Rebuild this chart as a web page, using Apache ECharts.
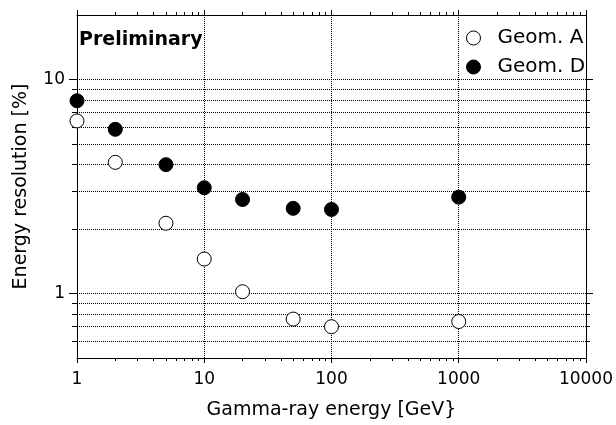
<!DOCTYPE html>
<html>
<head>
<meta charset="utf-8">
<script src="https://cdn.jsdelivr.net/npm/echarts@6/dist/echarts.min.js"></script>
<style>
  html, body { margin: 0; padding: 0; background: #fff; }
  #chart { width: 616px; height: 425px; }
</style>
</head>
<body>
<div id="chart"></div>
<script>
// gamma-ray energy [GeV]
var energies = [1, 2, 5, 10, 20, 50, 100, 1000];
// energy resolution [%]
var geomA = [6.4, 4.1, 2.13, 1.45, 1.02, 0.76, 0.70, 0.74];
var geomD = [7.95, 5.85, 4.0, 3.12, 2.75, 2.5, 2.47, 2.82];

var xMajor = [1, 10, 100, 1000, 10000];
var xMinor = [2, 3, 4, 5, 6, 7, 8, 9,
              20, 30, 40, 50, 60, 70, 80, 90,
              200, 300, 400, 500, 600, 700, 800, 900,
              2000, 3000, 4000, 5000, 6000, 7000, 8000, 9000];
var yMajor = [1, 10];
var yMinor = [0.6, 0.7, 0.8, 0.9, 2, 3, 4, 5, 6, 7, 8, 9];

var xRange = [1, 10000];
var yRange = [0.5, 20];

var FONT = '"DejaVu Sans", sans-serif';

function lg(arr) {
    return arr.map(function (v) { return Math.log10(v); });
}
function pairs(xs, ys) {
    return xs.map(function (x, i) { return [x, ys[i]]; });
}
function powLabel(v) {
    return String(Math.round(Math.pow(10, v)));
}

// decoration axis in log10 space (ticks, labels, grid lines)
function decoAxis(dim, position, ticks, len, opts) {
    var range = dim === 'x' ? xRange : yRange;
    var ax = {
        type: 'value',
        position: position,
        min: Math.log10(range[0]),
        max: Math.log10(range[1]),
        axisLine: { show: !!opts.line, onZero: false, lineStyle: { color: '#000', width: 1 } },
        axisTick: {
            show: true,
            inside: false,
            length: len,
            customValues: lg(ticks),
            lineStyle: { color: '#000', width: 1 }
        },
        axisLabel: { show: false },
        splitLine: {
            show: !!opts.split,
            lineStyle: { color: '#000', width: 1, type: 'dotted' }
        }
    };
    if (opts.labels) {
        ax.axisLabel = {
            show: true,
            customValues: lg(ticks),
            formatter: powLabel,
            margin: opts.margin,
            color: '#000',
            fontSize: 17,
            fontFamily: FONT
        };
    }
    if (opts.name) {
        ax.name = opts.name;
        ax.nameLocation = 'middle';
        ax.nameGap = opts.nameGap;
        ax.nameTextStyle = { color: '#000', fontSize: 19, fontFamily: FONT };
    }
    return ax;
}

var chart = echarts.init(document.getElementById('chart'));

chart.setOption({
    backgroundColor: '#fff',
    animation: false,
    grid: { left: 77, right: 28, top: 15, bottom: 67, containLabel: false },
    legend: {
        orient: 'vertical',
        left: 461,
        top: 21,
        itemWidth: 14,
        itemHeight: 14,
        itemGap: 5,
        selectedMode: false,
        itemStyle: { borderWidth: 1 },
        textStyle: {
            color: '#000',
            fontSize: 20,
            lineHeight: 24,
            fontFamily: FONT,
            padding: [0, 0, 0, 12]
        },
        data: [
            { name: 'Geom. A', icon: 'circle' },
            { name: 'Geom. D', icon: 'circle' }
        ]
    },
    graphic: [{
        type: 'text',
        left: 79,
        top: 31,
        style: {
            text: 'Preliminary',
            font: 'bold 19px ' + FONT,
            fill: '#000'
        }
    }],
    xAxis: [
        // data axis
        { type: 'log', min: xRange[0], max: xRange[1], show: false, splitLine: { show: false } },
        decoAxis('x', 'bottom', xMajor, 5, {
            line: true, split: true, labels: true, margin: 13,
            name: 'Gamma-ray energy [GeV}', nameGap: 43
        }),
        decoAxis('x', 'bottom', xMinor, 3, {}),
        decoAxis('x', 'top', xMajor, 5, { line: true }),
        decoAxis('x', 'top', xMinor, 3, {})
    ],
    yAxis: [
        { type: 'log', min: yRange[0], max: yRange[1], show: false, splitLine: { show: false } },
        decoAxis('y', 'left', yMajor, 8, {
            line: true, split: true, labels: true, margin: 12,
            name: 'Energy resolution [%]', nameGap: 46
        }),
        decoAxis('y', 'left', yMinor, 5, { split: true }),
        decoAxis('y', 'right', yMajor, 7, { line: true }),
        decoAxis('y', 'right', yMinor, 4, {})
    ],
    series: [
        {
            name: 'Geom. A',
            type: 'scatter',
            xAxisIndex: 0,
            yAxisIndex: 0,
            symbol: 'circle',
            symbolSize: 14,
            itemStyle: { color: '#fff', borderColor: '#000', borderWidth: 1, opacity: 1 },
            z: 5,
            data: pairs(energies, geomA)
        },
        {
            name: 'Geom. D',
            type: 'scatter',
            xAxisIndex: 0,
            yAxisIndex: 0,
            symbol: 'circle',
            symbolSize: 14,
            itemStyle: { color: '#000', borderColor: '#000', borderWidth: 1, opacity: 1 },
            z: 5,
            data: pairs(energies, geomD)
        }
    ]
});
</script>
</body>
</html>
